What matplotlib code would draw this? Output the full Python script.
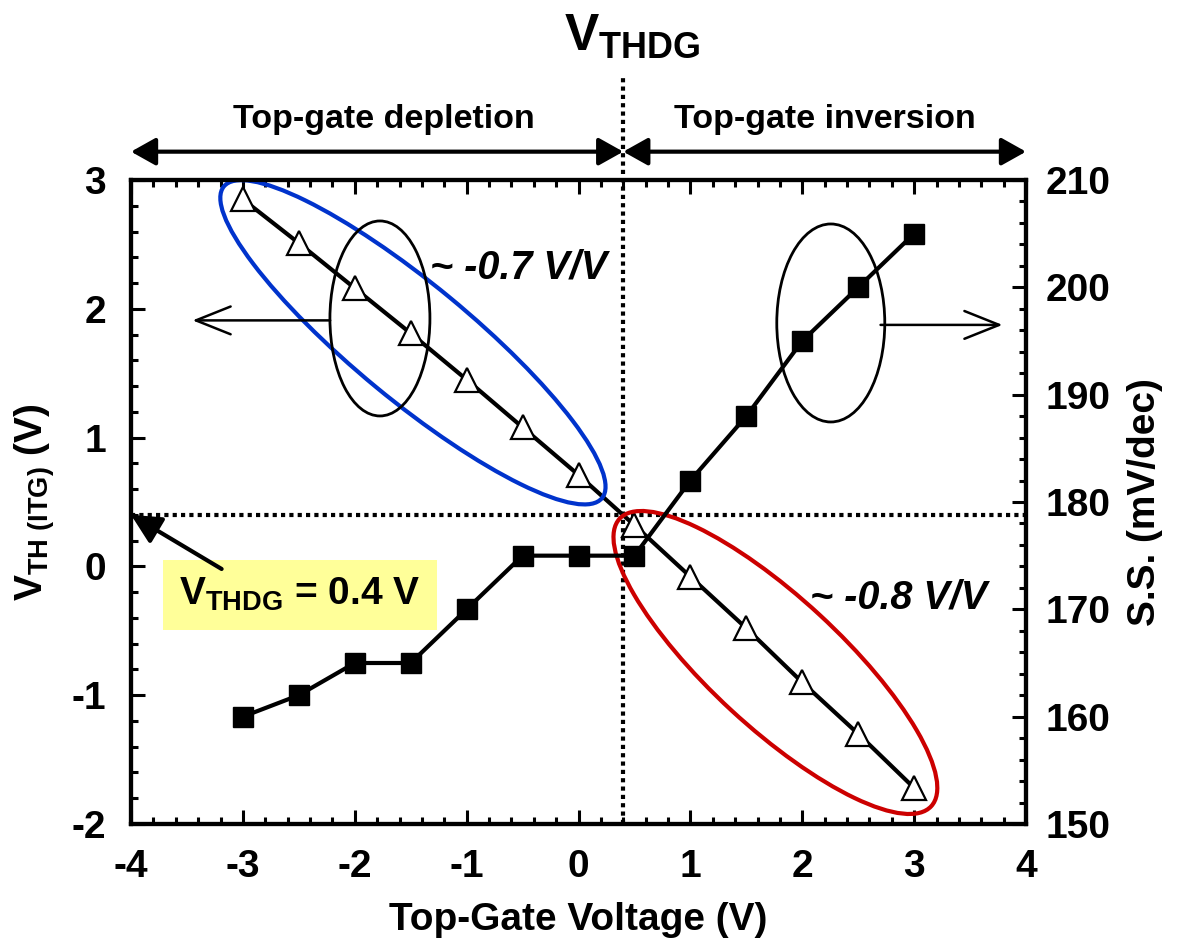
import matplotlib
matplotlib.use('Agg')
import matplotlib.pyplot as plt
from matplotlib.patches import Ellipse
from matplotlib.transforms import ScaledTranslation
from matplotlib.ticker import MultipleLocator

plt.rcParams['font.family'] = ['Liberation Sans', 'DejaVu Sans']
plt.rcParams['font.weight'] = 'bold'
plt.rcParams['axes.unicode_minus'] = False
plt.rcParams['mathtext.fontset'] = 'custom'
plt.rcParams['mathtext.rm'] = 'Liberation Sans:bold'
plt.rcParams['mathtext.bf'] = 'Liberation Sans:bold'
plt.rcParams['mathtext.it'] = 'Liberation Sans:bold:italic'

# data
vg = [-3, -2.5, -2, -1.5, -1, -0.5, 0, 0.5, 1, 1.5, 2, 2.5, 3]
vth = [2.85, 2.51, 2.16, 1.81, 1.45, 1.08, 0.71, 0.32, -0.08, -0.48, -0.90, -1.30, -1.72]
ss = [160, 162, 165, 165, 170, 175, 175, 175, 182, 188, 195, 200, 205]
vthdg = 0.4
xticks = [-4, -3, -2, -1, 0, 1, 2, 3, 4]
yticks_left = [-2, -1, 0, 1, 2, 3]
yticks_right = [150, 160, 170, 180, 190, 200, 210]

fig = plt.figure(figsize=(11.85, 9.48), dpi=100)
ax = fig.add_axes([131/1185, 1 - 824/948, 895/1185, 644/948])
ax2 = ax.twinx()

ax.set_xlim(-4, 4)
ax.set_ylim(-2, 3)
ax2.set_ylim(150, 210)

# dotted guide lines at V_THDG
ax.plot([vthdg, vthdg], [-2, 3.82], ls=(0, (1, 1)), color='black', lw=3, clip_on=False, zorder=1)
ax.plot([-4, 4], [vthdg, vthdg], ls=(0, (1, 1)), color='black', lw=3, zorder=1)

ax.plot(vg, vth, color='black', lw=3, marker='^', ms=17, mfc='white', mec='black', mew=1.6, zorder=3)
ax2.plot(vg, ss, color='black', lw=3, marker='s', ms=15, mfc='black', mec='black', zorder=3)

# spines / ticks
for a in (ax, ax2):
    for s in a.spines.values():
        s.set_linewidth(3)
ax.set_xticks(xticks)
ax.set_yticks(yticks_left)
ax2.set_yticks(yticks_right)
ax.xaxis.set_minor_locator(MultipleLocator(0.2))
ax.yaxis.set_minor_locator(MultipleLocator(0.2))
ax2.yaxis.set_minor_locator(MultipleLocator(2))
ax.tick_params(which='both', direction='in', top=True, right=False, width=2.2)
ax.tick_params(which='major', length=10)
ax.tick_params(which='minor', length=5)
ax.tick_params(axis='x', labelsize=28, pad=18)
ax.tick_params(axis='y', labelsize=28, pad=18)
ax2.tick_params(which='both', direction='in', width=2.2)
ax2.tick_params(which='major', length=10, labelsize=28, pad=14)
ax2.tick_params(which='minor', length=5)
for lab in ax.get_xticklabels() + ax.get_yticklabels() + ax2.get_yticklabels():
    lab.set_fontweight('bold')

ax.set_xlabel('Top-Gate Voltage (V)', fontsize=28, fontweight='bold', labelpad=12)
ax.set_ylabel(r'$\mathbf{V_{TH\ (ITG)}}$ (V)', fontsize=28, fontweight='bold', labelpad=10)
ax2.set_ylabel('S.S. (mV/dec)', fontsize=28, fontweight='bold', labelpad=12)


def ellipse(cx, cy, w_px, h_px, angle, color, lw):
    tr = fig.dpi_scale_trans + ScaledTranslation(cx, cy, ax.transData)
    e = Ellipse((0, 0), w_px / 100, h_px / 100, angle=angle, fill=False,
                edgecolor=color, lw=lw, transform=tr, clip_on=False, zorder=4)
    ax.add_artist(e)


ellipse(-1.48, 1.74, 490, 116, -39.5, '#0033CC', 3)
ellipse(1.76, -0.746, 424, 130, -42.7, '#CC0000', 3)
ellipse(-1.775, 1.925, 100, 195, 0, 'black', 2)
ellipse(2.255, 1.89, 108, 198, 0, 'black', 2)

# open arrows pointing to the axes
ax.annotate('', xy=(-3.45, 1.91), xytext=(-2.22, 1.91),
            arrowprops=dict(arrowstyle='->,head_length=2.5,head_width=1.0', lw=1.8, color='black',
                            shrinkA=0, shrinkB=0), zorder=5)
ax.annotate('', xy=(3.79, 1.875), xytext=(2.70, 1.875),
            arrowprops=dict(arrowstyle='->,head_length=2.5,head_width=1.0', lw=1.8, color='black',
                            shrinkA=0, shrinkB=0), zorder=5)

# region arrows on top
ax.annotate('', xy=(-4, 3.22), xytext=(vthdg, 3.22), annotation_clip=False,
            arrowprops=dict(arrowstyle='<|-|>,head_length=0.75,head_width=0.42', lw=3, color='black',
                            shrinkA=0, shrinkB=0, mutation_scale=20))
ax.annotate('', xy=(4, 3.22), xytext=(vthdg, 3.22), annotation_clip=False,
            arrowprops=dict(arrowstyle='<|-|>,head_length=0.75,head_width=0.42', lw=3, color='black',
                            shrinkA=0, shrinkB=0, mutation_scale=20))
ax.text(-1.74, 3.47, 'Top-gate depletion', fontsize=24.5, fontweight='bold', ha='center', va='center')
ax.text(2.2, 3.47, 'Top-gate inversion', fontsize=24.5, fontweight='bold', ha='center', va='center')
ax.text(0.48, 4.12, r'$\mathbf{V_{THDG}}$', fontsize=37, ha='center', va='center')

# slope labels
ax.text(-1.33, 2.32, '~ -0.7 V/V', fontsize=28.5, fontweight='bold', style='italic', ha='left', va='center', zorder=6)
ax.text(2.07, -0.24, '~ -0.8 V/V', fontsize=28.5, fontweight='bold', style='italic', ha='left', va='center', zorder=6)

# V_THDG box
ax.annotate('', xy=(-4, vthdg), xytext=(-3.19, -0.02),
            arrowprops=dict(arrowstyle='-|>,head_length=0.9,head_width=0.45', lw=3, color='black',
                            shrinkA=0, shrinkB=0, mutation_scale=20), zorder=6)
ax.text(-2.49, -0.22, r'$\mathbf{V_{THDG}}$ = 0.4 V', fontsize=28, fontweight='bold', ha='center', va='center',
        bbox=dict(boxstyle='square,pad=0.42', fc='#FFFF99', ec='none'), zorder=5)

fig.savefig('out.png', dpi=100)
